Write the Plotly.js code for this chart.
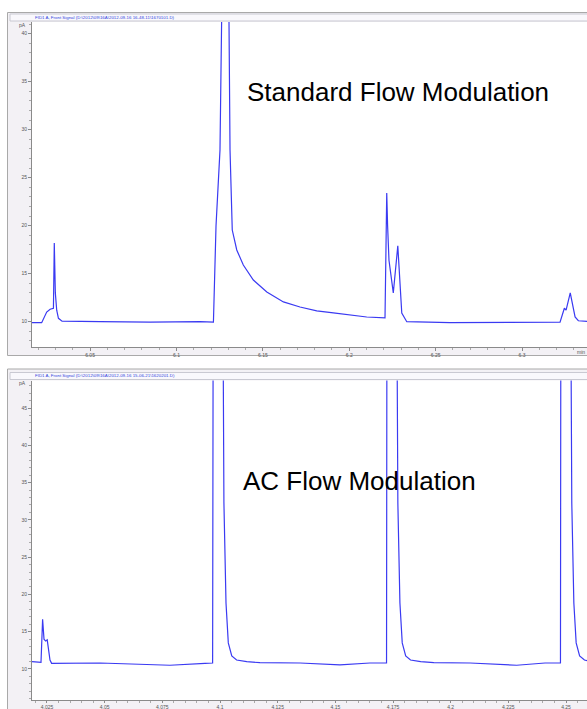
<!DOCTYPE html>
<html>
<head>
<meta charset="utf-8">
<script src="https://cdn.plot.ly/plotly-3.0.1.min.js"></script>
<style>html,body{margin:0;padding:0;background:#fff;}#chart{width:587px;height:709px;}</style>
</head>
<body>
<div id="chart"></div>
<script>
// ---- data (time in min, signal in pA) ----
const topTime = [6.0164, 6.0220, 6.0249, 6.0269, 6.0288, 6.0293, 6.0299, 6.0307, 6.0317, 6.0338,
  6.0558, 6.0847, 6.1137, 6.1214, 6.1229, 6.1252, 6.1264, 6.1287, 6.1304, 6.1310, 6.1323, 6.1349,
  6.1387, 6.1445, 6.1523, 6.1619, 6.1715, 6.1812, 6.1908, 6.2005, 6.2101, 6.2207, 6.2217, 6.2222,
  6.2230, 6.2255, 6.2281, 6.2304, 6.2333, 6.2583, 6.2873, 6.3220, 6.3245, 6.3255, 6.3279, 6.3307,
  6.3326, 6.3394];
const topSignal = [9.9, 9.9, 11.0, 11.3, 11.4, 18.2, 13.0, 11.2, 10.35, 10.05,
  10.0, 9.95, 10.0, 9.95, 20.0, 27.9, 45.0, 60.0, 41.5, 27.9, 19.55, 17.47,
  15.9, 14.34, 13.09, 12.06, 11.53, 11.12, 10.91, 10.7, 10.49, 10.39, 23.4, 20.0,
  16.4, 13.0, 17.9, 10.9, 10.0, 9.9, 9.9, 9.95, 11.4, 11.2, 13.0, 10.5,
  10.1, 10.0];

const botTime = [4.0185, 4.0224, 4.0231, 4.0237, 4.0244, 4.0251, 4.0263, 4.0270, 4.0480, 4.0783,
  4.0935, 4.0968, 4.0971, 4.1011, 4.1017, 4.1026, 4.1036, 4.1051, 4.1072, 4.1116, 4.1173, 4.1347,
  4.1520, 4.1650, 4.1722, 4.1724, 4.1765, 4.1771, 4.1780, 4.1790, 4.1805, 4.1826, 4.1870, 4.1927,
  4.2084, 4.2286, 4.2409, 4.2476, 4.2478, 4.2519, 4.2525, 4.2534, 4.2544, 4.2559, 4.2580, 4.2604];
const botSignal = [10.98, 10.9, 16.66, 14.0, 13.75, 13.9, 11.2, 10.76, 10.8, 10.5,
  10.75, 10.8, 70, 70, 32.3, 18.85, 13.5, 11.74, 11.2, 10.98, 10.84, 10.8,
  10.55, 10.8, 10.8, 70, 70, 32.3, 18.85, 13.5, 11.74, 11.2, 10.98, 10.84,
  10.8, 10.5, 10.8, 10.8, 70, 70, 32.3, 18.85, 13.5, 11.74, 11.2, 11.0];

const topTitle = "FID1 A, Front Signal (D:\\2012\\09\\16A\\2012-09-16 16-48-11\\1670101.D)";
const botTitle = "FID1 A, Front Signal (D:\\2012\\09\\16A\\2012-09-16 15-06-21\\1620201.D)";
const topLabel = "Standard Flow Modulation";
const botLabel = "AC Flow Modulation";
const yUnit = "pA";
const xUnit = "min";

// ---- helpers for pixel placement ----
const W = 587, H = 709;
const px = v => v / W;
const py = v => 1 - v / H;

const lineColor = '#3a3af2';
const axisCommon = {
  showgrid: false, zeroline: false, showline: true, linecolor: '#8a8a8a', linewidth: 1,
  ticks: 'outside', ticklen: 3, tickcolor: '#8a8a8a', tickwidth: 1,
  tickfont: {size: 5, color: '#555', family: 'Liberation Sans'}, fixedrange: true
};

const traces = [
  {x: topTime, y: topSignal, type: 'scatter', mode: 'lines', xaxis: 'x', yaxis: 'y',
   line: {color: lineColor, width: 1.2}, hoverinfo: 'skip'},
  {x: botTime, y: botSignal, type: 'scatter', mode: 'lines', xaxis: 'x2', yaxis: 'y2',
   line: {color: lineColor, width: 1.2}, hoverinfo: 'skip'}
];

function frame(top, bottom, headTop, headBot, plotTop, plotBot) {
  return [
    {type: 'rect', xref: 'paper', yref: 'paper', x0: px(7.5), x1: px(600), y0: py(bottom), y1: py(top),
     fillcolor: '#f3f1f5', line: {color: '#a9a9a9', width: 1}, layer: 'below'},
    {type: 'rect', xref: 'paper', yref: 'paper', x0: px(10), x1: px(600), y0: py(headBot), y1: py(headTop),
     fillcolor: '#f9f8fc', line: {color: '#c9c9d2', width: 1}, layer: 'below'},
    {type: 'rect', xref: 'paper', yref: 'paper', x0: px(32), x1: px(600), y0: py(plotBot), y1: py(plotTop),
     fillcolor: '#ffffff', line: {width: 0}, layer: 'below'}
  ];
}

const layout = {
  width: W, height: H, margin: {l: 0, r: 0, t: 0, b: 0},
  paper_bgcolor: '#ffffff', plot_bgcolor: 'rgba(0,0,0,0)', showlegend: false,
  font: {family: 'Liberation Sans'},
  xaxis: Object.assign({}, axisCommon, {domain: [px(32), 1], range: [6.0164, 6.3376], dtick: 0.05, tick0: 6,
    anchor: 'y', minor: {dtick: 0.01, ticklen: 2, tickcolor: '#aaa', ticks: 'outside'}}),
  yaxis: Object.assign({}, axisCommon, {domain: [py(347), py(22)], range: [7.365, 41.22], dtick: 5, tick0: 0,
    anchor: 'x', minor: {dtick: 1, ticklen: 2, tickcolor: '#aaa', ticks: 'outside'}}),
  xaxis2: Object.assign({}, axisCommon, {domain: [px(32), 1], range: [4.0185, 4.2591], dtick: 0.025, tick0: 4,
    anchor: 'y2', ticklen: 2, minor: {dtick: 0.005, ticklen: 1.5, tickcolor: '#aaa', ticks: 'outside'}}),
  yaxis2: Object.assign({}, axisCommon, {domain: [py(700), py(380.5)], range: [5.84, 48.69], dtick: 5, tick0: 0,
    anchor: 'x2', minor: {dtick: 1, ticklen: 2, tickcolor: '#aaa', ticks: 'outside'}}),
  shapes: [].concat(frame(12.5, 355.5, 14, 21, 22, 347), frame(369, 720, 372.5, 379.5, 380.5, 700)),
  annotations: [
    {text: topTitle, xref: 'paper', yref: 'paper', x: px(33), y: py(17.5), xanchor: 'left', yanchor: 'middle',
     showarrow: false, font: {size: 4.4, color: '#3344dd'}},
    {text: botTitle, xref: 'paper', yref: 'paper', x: px(33), y: py(376), xanchor: 'left', yanchor: 'middle',
     showarrow: false, font: {size: 4.4, color: '#3344dd'}},
    {text: yUnit, xref: 'paper', yref: 'paper', x: px(28), y: py(24.5), xanchor: 'right', yanchor: 'middle',
     showarrow: false, font: {size: 5, color: '#555'}},
    {text: yUnit, xref: 'paper', yref: 'paper', x: px(28), y: py(383), xanchor: 'right', yanchor: 'middle',
     showarrow: false, font: {size: 5, color: '#555'}},
    {text: xUnit, xref: 'paper', yref: 'paper', x: px(587), y: py(351.5), xanchor: 'right', yanchor: 'middle',
     showarrow: false, font: {size: 5, color: '#555'}},
    {text: topLabel, xref: 'paper', yref: 'paper', x: px(398), y: py(92), xanchor: 'center', yanchor: 'middle',
     showarrow: false, font: {size: 26, color: '#000', family: 'Liberation Sans'}},
    {text: botLabel, xref: 'paper', yref: 'paper', x: px(359), y: py(481), xanchor: 'center', yanchor: 'middle',
     showarrow: false, font: {size: 26, color: '#000', family: 'Liberation Sans'}}
  ]
};

Plotly.newPlot('chart', traces, layout, {staticPlot: true, displayModeBar: false});
</script>
</body>
</html>
